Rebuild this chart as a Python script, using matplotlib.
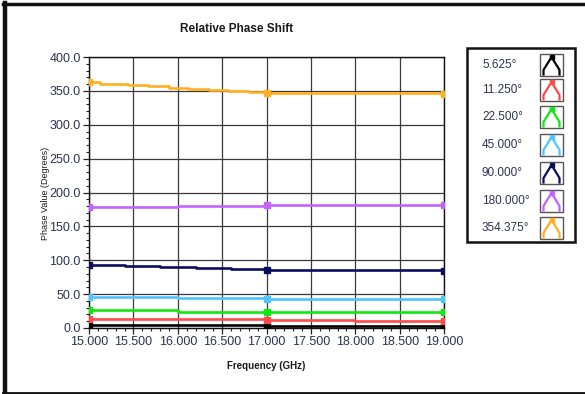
import matplotlib
matplotlib.use("Agg")
import matplotlib.pyplot as plt
from matplotlib.lines import Line2D
from matplotlib.patches import Rectangle
from matplotlib.ticker import MultipleLocator, FormatStrFormatter

W, H = 585, 394
DPI = 100

labels = ["5.625°", "11.250°", "22.500°", "45.000°", "90.000°", "180.000°", "354.375°"]
colors = ["#000000", "#ff4a4a", "#10e810", "#50c4ff", "#0c0c5c", "#c462ff", "#ffb020"]

f_5625 = [15.0, 17.0, 19.0]
v_5625 = [4.0, 3.0, 2.0]
f_11250 = [15.0, 17.0, 18.0, 19.0]
v_11250 = [13.0, 12.5, 10.0, 10.0]
f_22500 = [15.0, 16.0, 17.0, 19.0]
v_22500 = [26.0, 24.0, 24.0, 24.0]
f_45000 = [15.0, 16.0, 17.0, 19.0]
v_45000 = [45.5, 44.5, 43.5, 43.5]
f_90000 = [15.0, 15.4, 15.8, 16.2, 16.6, 17.0, 19.0]
v_90000 = [93.5, 91.5, 89.5, 88.0, 86.6, 85.0, 84.5]
f_180000 = [15.0, 16.0, 17.0, 19.0]
v_180000 = [178.5, 179.5, 181.0, 182.0]
f_354375 = [15.0, 15.12, 15.44, 15.67, 15.9, 16.12, 16.35, 16.57, 16.8, 17.0, 19.0]
v_354375 = [362.5, 359.7, 358.2, 356.7, 354.8, 352.8, 351.3, 349.8, 348.3, 346.3, 346.0]

freqs = [f_5625, f_11250, f_22500, f_45000, f_90000, f_180000, f_354375]
vals = [v_5625, v_11250, v_22500, v_45000, v_90000, v_180000, v_354375]
marker_freqs = [15.0, 17.0, 19.0]

xticks = [15.0, 15.5, 16.0, 16.5, 17.0, 17.5, 18.0, 18.5, 19.0]
yticks = [0, 50, 100, 150, 200, 250, 300, 350, 400]

TXT = "#2c3450"
FONT = "Liberation Sans"

fig = plt.figure(figsize=(W / DPI, H / DPI), dpi=DPI)


def fx(px):
    return px / W


def fy(py):
    return 1 - py / H


# outer frame
fig.add_artist(Line2D([fx(5), fx(5)], [fy(3), fy(393)], color="#111111", lw=3.2, transform=fig.transFigure))
fig.add_artist(Line2D([fx(3), fx(585)], [fy(4), fy(4)], color="#111111", lw=2.5, transform=fig.transFigure))
fig.add_artist(Line2D([fx(3), fx(585)], [fy(393), fy(393)], color="#111111", lw=2.0, transform=fig.transFigure))

ax = fig.add_axes([fx(89), fy(328), (444 - 89) / W, (328 - 57) / H])
ax.set_xlim(15.0, 19.0)
ax.set_ylim(0, 400)

for f, v, c in zip(freqs, vals, colors):
    idx = [f.index(m) for m in marker_freqs if m in f]
    ax.plot(f, v, drawstyle="steps-post", color=c, lw=1.9, marker="s", ms=4.2,
            markevery=idx, zorder=3, solid_capstyle="butt")

ax.set_xticks(xticks)
ax.set_yticks(yticks)
ax.xaxis.set_minor_locator(MultipleLocator(0.1))
ax.yaxis.set_minor_locator(MultipleLocator(10))
ax.xaxis.set_major_formatter(FormatStrFormatter("%.3f"))
ax.yaxis.set_major_formatter(FormatStrFormatter("%.1f"))
ax.grid(True, which="major", color="#3a3a3a", lw=0.9, zorder=1)
ax.tick_params(which="major", length=4, width=0.9, color="#222222", labelsize=9, labelcolor=TXT, pad=2)
ax.tick_params(which="minor", length=2, width=0.8, color="#222222")
for lab in ax.get_xticklabels() + ax.get_yticklabels():
    lab.set_fontfamily(FONT)
for s in ax.spines.values():
    s.set_color("#111111")
    s.set_linewidth(1.0)

fig.text(fx(237), fy(29), "Relative Phase Shift", ha="center", va="center",
         fontsize=8.5, fontweight="bold", family=FONT, color="#1a1a1a")
fig.text(fx(46), fy(193), "Phase Value (Degrees)", ha="center", va="center", rotation=90,
         fontsize=6.5, family=FONT, color="#1a1a1a")
fig.text(fx(266), fy(366), "Frequency (GHz)", ha="center", va="center",
         fontsize=7, fontweight="bold", family=FONT, color="#1a1a1a")

# legend box
fig.add_artist(Rectangle((fx(467), fy(242)), (575 - 467) / W, (242 - 48) / H, fill=False,
                         ec="#111111", lw=1.8, transform=fig.transFigure))
row_y = [65, 90, 117, 145, 173, 201, 228]
for lab, c, yc in zip(labels, colors, row_y):
    fig.text(fx(482), fy(yc), lab, ha="left", va="center", fontsize=8.5, family=FONT, color=TXT)
    top, bot = yc - 11, yc + 11
    fig.add_artist(Rectangle((fx(540), fy(bot)), 23 / W, 22 / H, fill=False, ec="#555555", lw=1.0,
                             transform=fig.transFigure))
    xs = [fx(543.5), fx(543.5), fx(551.5), fx(559.5), fx(559.5)]
    ys = [fy(bot - 1.5), fy(bot - 6), fy(top + 3), fy(bot - 6), fy(bot - 1.5)]
    fig.add_artist(Line2D(xs, ys, color=c, lw=1.6, transform=fig.transFigure))
    fig.add_artist(Line2D([fx(551.5)], [fy(top + 3)], color=c, marker="s", ms=3.2,
                          transform=fig.transFigure))

fig.savefig("out.png", dpi=DPI)
